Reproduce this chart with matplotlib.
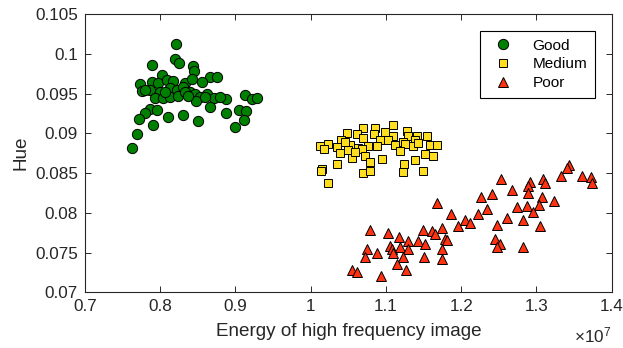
import matplotlib
matplotlib.use("Agg")
import matplotlib.pyplot as plt
import numpy as np
from matplotlib.ticker import FuncFormatter

# ---- data (x in units of 1e7) ----
good_x = [0.8209, 0.8192, 0.8253, 0.7890, 0.8439, 0.8453, 0.8657, 0.8754, 0.8019, 0.7731,
          0.7886, 0.7974, 0.8086, 0.8174, 0.8329, 0.8418, 0.8551, 0.7754, 0.7864, 0.7997,
          0.8130, 0.8219, 0.8298, 0.8395, 0.8462, 0.8528, 0.8617, 0.8714, 0.8874, 0.9126,
          0.9215, 0.9290, 0.7930, 0.8033, 0.8130, 0.8240, 0.8475, 0.8661, 0.7864, 0.7953,
          0.7797, 0.7714, 0.8099, 0.8298, 0.8506, 0.8874, 0.9047, 0.9136, 0.9113, 0.7908,
          0.8994, 0.7687, 0.7625, 0.8329, 0.8063, 0.8369, 0.8595, 0.7797, 0.8794]
good_y = [0.1012, 0.0993, 0.0989, 0.0986, 0.0985, 0.0978, 0.0971, 0.0971, 0.0973, 0.0962,
          0.0965, 0.0963, 0.0967, 0.0966, 0.0963, 0.0968, 0.0964, 0.0953, 0.0954, 0.0952,
          0.0957, 0.0954, 0.0958, 0.0952, 0.0950, 0.0946, 0.0950, 0.0944, 0.0943, 0.0948,
          0.0943, 0.0944, 0.0944, 0.0944, 0.0946, 0.0947, 0.0940, 0.0933, 0.0930, 0.0929,
          0.0925, 0.0918, 0.0921, 0.0923, 0.0915, 0.0926, 0.0929, 0.0928, 0.0917, 0.0911,
          0.0908, 0.0899, 0.0882, 0.0952, 0.0952, 0.0947, 0.0946, 0.0955, 0.0946]

medium_x = [1.1089, 1.0699, 1.0854, 1.1275, 1.0478, 1.0611, 1.0841, 1.1097, 1.1297, 1.1408,
            1.1541, 1.0398, 1.0699, 1.0921, 1.1031, 1.1230, 1.1386, 1.0123, 1.0233, 1.0345,
            1.0522, 1.0632, 1.0765, 1.0885, 1.1120, 1.1253, 1.1363, 1.1585, 1.1674, 1.0176,
            1.0499, 1.0677, 1.1186, 1.0389, 1.0544, 1.0721, 1.1519, 1.1621, 1.0943, 1.0788,
            1.1386, 1.0345, 1.1240, 1.0146, 1.0132, 1.0699, 1.0788, 1.1230, 1.1496, 1.0233,
            1.0455, 1.0987, 1.1426, 1.0588]
medium_y = [0.0911, 0.0907, 0.0907, 0.0903, 0.0900, 0.0899, 0.0899, 0.0897, 0.0896, 0.0897,
            0.0897, 0.0891, 0.0894, 0.0892, 0.0892, 0.0889, 0.0892, 0.0884, 0.0886, 0.0883,
            0.0885, 0.0882, 0.0884, 0.0884, 0.0885, 0.0887, 0.0884, 0.0885, 0.0885, 0.0880,
            0.0879, 0.0880, 0.0878, 0.0875, 0.0869, 0.0871, 0.0874, 0.0871, 0.0868, 0.0864,
            0.0866, 0.0861, 0.0861, 0.0855, 0.0853, 0.0850, 0.0852, 0.0851, 0.0853, 0.0838,
            0.0889, 0.0902, 0.0888, 0.0876]

poor_x = [1.3436, 1.3402, 1.3322, 1.3601, 1.3721, 1.3734, 1.3091, 1.3113, 1.2914, 1.2892,
          1.2525, 1.2671, 1.2892, 1.2405, 1.2263, 1.3070, 1.3233, 1.2737, 1.2870, 1.3038,
          1.2958, 1.1682, 1.2339, 1.2227, 1.1860, 1.2612, 1.2825, 1.2050, 1.2117, 1.1961,
          1.2471, 1.3047, 1.0788, 1.1031, 1.1496, 1.1608, 1.1741, 1.1652, 1.1177, 1.1297,
          1.1430, 1.1519, 1.1784, 1.1807, 1.2449, 1.2515, 1.2471, 1.2817, 1.0744, 1.0877,
          1.0721, 1.1053, 1.1076, 1.1186, 1.1297, 1.1097, 1.1741, 1.1230, 1.1509, 1.1741,
          1.1150, 1.1266, 1.0544, 1.0611, 1.0930]
poor_y = [0.0860, 0.0856, 0.0846, 0.0846, 0.0845, 0.0838, 0.0842, 0.0838, 0.0839, 0.0834,
          0.0843, 0.0829, 0.0825, 0.0824, 0.0820, 0.0820, 0.0815, 0.0807, 0.0809, 0.0810,
          0.0801, 0.0812, 0.0805, 0.0799, 0.0799, 0.0793, 0.0791, 0.0791, 0.0787, 0.0783,
          0.0785, 0.0783, 0.0778, 0.0775, 0.0778, 0.0777, 0.0781, 0.0773, 0.0769, 0.0765,
          0.0764, 0.0761, 0.0767, 0.0766, 0.0767, 0.0761, 0.0757, 0.0757, 0.0755, 0.0749,
          0.0745, 0.0758, 0.0755, 0.0757, 0.0754, 0.0749, 0.0755, 0.0744, 0.0744, 0.0742,
          0.0736, 0.0728, 0.0728, 0.0726, 0.0720]

x_ticks = [0.7, 0.8, 0.9, 1.0, 1.1, 1.2, 1.3, 1.4]
y_ticks = [0.07, 0.075, 0.08, 0.085, 0.09, 0.095, 0.1, 0.105]
labels = ["Good", "Medium", "Poor"]

SCALE = 1e7
plt.rcParams['font.family'] = ['Liberation Sans', 'DejaVu Sans']
plt.rcParams['mathtext.fontset'] = 'custom'
plt.rcParams['mathtext.rm'] = 'Liberation Sans'
plt.rcParams['mathtext.it'] = 'Liberation Sans'
TXT = '#262626'

fig = plt.figure(figsize=(6.23, 3.48), dpi=100)
ax = fig.add_axes([85/623, 1-292.3/348, (611.7-85)/623, (292.3-14)/348])

ax.plot(np.array(good_x)*SCALE, good_y, 'o', ms=7.4, mfc='#008000', mec='black', mew=0.7,
        linestyle='none', label=labels[0])
ax.plot(np.array(medium_x)*SCALE, medium_y, 's', ms=6.0, mfc='#FFDD1F', mec='black', mew=0.7,
        linestyle='none', label=labels[1])
ax.plot(np.array(poor_x)*SCALE, poor_y, '^', ms=7.6, mfc='#FF3311', mec='black', mew=0.7,
        linestyle='none', label=labels[2])

ax.set_xlim(0.7*SCALE, 1.4*SCALE)
ax.set_ylim(0.07, 0.105)
ax.set_xticks(np.array(x_ticks)*SCALE)
ax.set_yticks(y_ticks)
ax.xaxis.set_major_formatter(FuncFormatter(lambda v, p: f"{v/SCALE:g}"))
ax.yaxis.set_major_formatter(FuncFormatter(lambda v, p: f"{v:g}"))
ax.tick_params(direction='in', top=True, right=True, length=4, width=0.7,
               colors=TXT, labelsize=12.3, pad=5)
for s in ax.spines.values():
    s.set_linewidth(0.8)
    s.set_color(TXT)

ax.set_xlabel("Energy of high frequency image", fontsize=13.6, color=TXT, labelpad=6)
ax.set_ylabel("Hue", fontsize=13.6, color=TXT, labelpad=4)
fig.text(611/623, 1-342/348, "×10$^{7}$", ha='right', va='baseline',
         fontsize=12.3, color=TXT)

leg = ax.legend(loc='upper right', bbox_to_anchor=(0.968, 0.939), borderaxespad=0,
                fontsize=11.1, fancybox=False, edgecolor='black', framealpha=1,
                labelspacing=0.3, handletextpad=0.9, borderpad=0.5, handlelength=2.0)
leg.get_frame().set_linewidth(0.8)

fig.savefig("out.png", dpi=100)
